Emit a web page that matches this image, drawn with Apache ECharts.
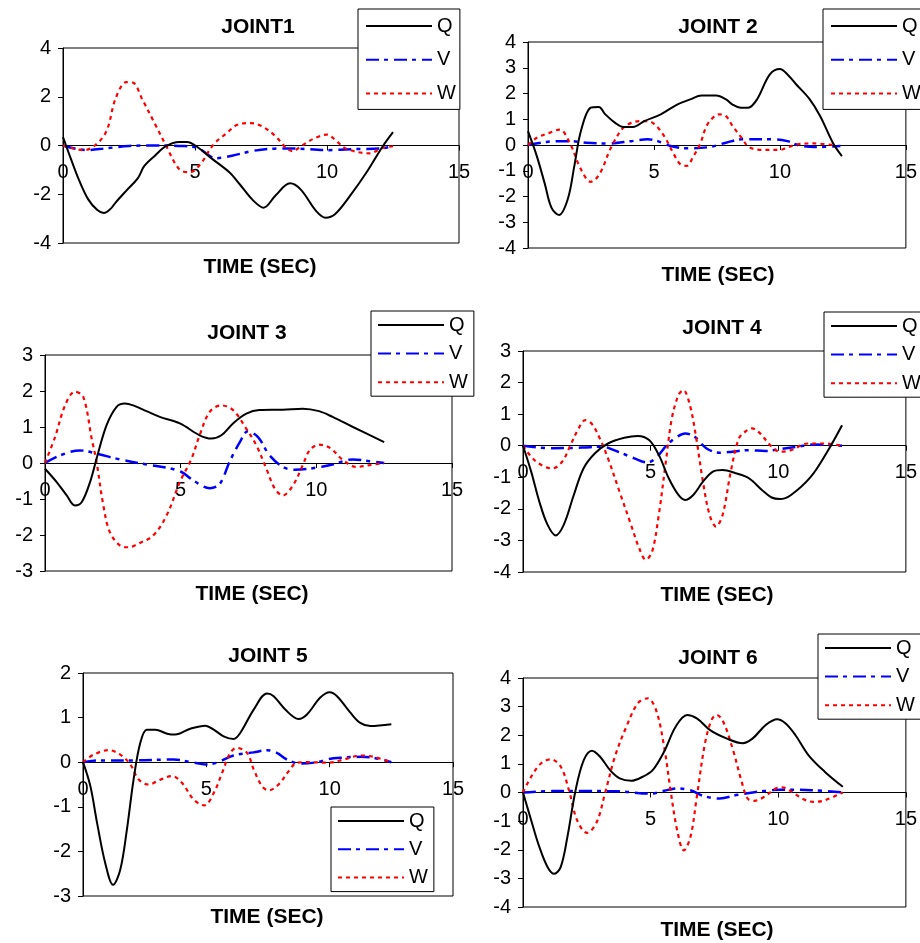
<!DOCTYPE html>
<html>
<head>
<meta charset="utf-8">
<script src="https://cdn.jsdelivr.net/npm/echarts@6/dist/echarts.min.js"></script>
<style>
html,body{margin:0;padding:0;background:#fff;}
#chart{width:920px;height:943px;}
</style>
</head>
<body>
<div id="chart"></div>
<script>
// ---- data: [time (sec), value] ----
var seriesNames = ['Q', 'V', 'W'];
var panelTitles = ['JOINT1', 'JOINT 2', 'JOINT 3', 'JOINT 4', 'JOINT 5', 'JOINT 6'];
var xTitle = 'TIME (SEC)';
var xTicks = [0, 5, 10, 15];
var yRanges = [[-4, 4, 2], [-4, 4, 1], [-3, 3, 1], [-4, 3, 1], [-3, 2, 1], [-4, 4, 1]];

var j1Q = [[0,0.35],[0.3,-0.55],[0.6,-1.4],[0.95,-2.2],[1.3,-2.65],[1.55,-2.77],[1.8,-2.6],[2.0,-2.33],[2.4,-1.85],[2.83,-1.35],[3.08,-0.84],[3.5,-0.4],[3.9,-0.03],[4.4,0.14],[4.7,0.14],[5.05,-0.03],[5.65,-0.55],[6.3,-1.1],[6.7,-1.6],[7.2,-2.25],[7.6,-2.55],[8.05,-2.05],[8.6,-1.55],[9.0,-1.8],[9.6,-2.7],[9.95,-2.96],[10.3,-2.82],[10.85,-2.1],[11.5,-1.1],[12.1,-0.05],[12.5,0.55]];
var j1V = [[0,0],[0.9,-0.19],[1.6,-0.12],[2.5,-0.02],[3.5,0],[4.5,-0.02],[5.1,-0.1],[5.8,-0.52],[6.4,-0.42],[7.2,-0.22],[8.0,-0.13],[8.7,-0.12],[10.0,-0.19],[11.0,-0.15],[12.0,-0.12],[12.5,-0.03]];
var j1W = [[0,0],[0.8,-0.19],[1.25,0.04],[1.65,0.6],[2.0,1.95],[2.4,2.6],[2.65,2.58],[3.0,1.9],[3.5,0.85],[3.9,0],[4.4,-0.97],[4.8,-1.1],[5.2,-0.77],[5.7,0.04],[6.2,0.51],[6.6,0.85],[7.1,0.92],[7.55,0.78],[8.05,0.38],[8.45,-0.1],[8.7,-0.23],[9.05,0.0],[9.55,0.31],[10.0,0.45],[10.3,0.24],[10.7,-0.12],[11.6,-0.32],[12.1,-0.1],[12.5,-0.03]];

var j2Q = [[0,0.54],[0.35,-0.43],[0.67,-1.52],[0.93,-2.43],[1.23,-2.72],[1.58,-2.1],[1.84,-0.81],[2.1,0.54],[2.49,1.45],[2.81,1.48],[3.07,1.19],[3.46,0.86],[3.78,0.7],[4.17,0.7],[4.62,0.93],[5.27,1.19],[5.92,1.57],[6.44,1.77],[6.89,1.92],[7.47,1.92],[7.86,1.77],[8.12,1.57],[8.45,1.45],[8.74,1.45],[9.09,1.77],[9.6,2.74],[10.0,2.95],[10.3,2.74],[10.65,2.35],[11.17,1.79],[11.6,1.12],[12.1,0.09],[12.46,-0.43]];
var j2V = [[0,0],[0.74,0.12],[1.26,0.15],[1.7,0.15],[2.3,0.09],[3.2,0.06],[4.1,0.15],[4.75,0.22],[5.14,0.15],[5.66,-0.04],[6.3,-0.13],[7.2,-0.08],[7.86,0.09],[8.5,0.22],[9.8,0.22],[10.3,0.15],[10.7,0],[11.36,-0.08],[12.4,-0.04]];
var j2W = [[0,0],[0.35,0.28],[0.87,0.48],[1.26,0.6],[1.65,0.1],[2.1,-0.94],[2.49,-1.43],[2.68,-1.33],[2.94,-0.94],[3.26,-0.17],[3.72,0.6],[4.1,0.86],[4.56,0.93],[4.95,0.86],[5.4,0.35],[5.79,-0.36],[6.05,-0.75],[6.3,-0.81],[6.57,-0.43],[6.83,0.03],[7.09,0.74],[7.4,1.12],[7.6,1.19],[7.86,1.12],[8.12,0.74],[8.5,0.25],[8.77,-0.08],[9.29,-0.19],[10.0,-0.19],[10.3,-0.1],[10.7,0.03],[11.36,0.06],[12.1,0]];

var j3Q = [[0,-0.16],[0.43,-0.53],[0.8,-0.9],[1.1,-1.18],[1.35,-1.09],[1.66,-0.53],[1.9,0.12],[2.27,1.05],[2.64,1.56],[2.94,1.65],[3.25,1.6],[3.74,1.44],[4.23,1.28],[4.97,1.1],[5.7,0.77],[6.13,0.68],[6.5,0.77],[6.93,1.1],[7.42,1.37],[7.9,1.47],[8.77,1.48],[9.5,1.51],[10.1,1.44],[10.6,1.28],[11.35,1.0],[12.5,0.58]];
var j3V = [[0,0],[0.55,0.21],[1.29,0.35],[1.9,0.26],[2.76,0.1],[3.74,-0.04],[4.48,-0.13],[5.03,-0.25],[5.46,-0.48],[6.07,-0.7],[6.44,-0.58],[6.8,0.03],[7.18,0.58],[7.48,0.88],[7.85,0.72],[8.28,0.21],[8.77,-0.11],[9.2,-0.19],[10.0,-0.13],[10.6,-0.04],[11.35,0.1],[11.96,0.05],[12.5,0]];
var j3W = [[0,0],[0.37,0.72],[0.74,1.6],[1.1,1.98],[1.41,1.84],[1.72,0.68],[1.9,0.03],[2.15,-1.18],[2.39,-1.92],[2.76,-2.29],[3.07,-2.34],[3.5,-2.22],[3.99,-2.01],[4.48,-1.46],[4.97,-0.53],[5.4,0.12],[5.7,0.77],[6.07,1.42],[6.5,1.6],[6.93,1.47],[7.42,0.95],[7.79,0.49],[8.16,-0.16],[8.47,-0.71],[8.77,-0.9],[9.14,-0.62],[9.5,-0.06],[9.75,0.35],[10.1,0.51],[10.5,0.42],[11.0,0.07],[11.47,-0.11],[11.96,-0.06],[12.5,0]];

var j4Q = [[0,0],[0.32,-0.82],[0.64,-1.77],[0.96,-2.5],[1.28,-2.84],[1.6,-2.5],[1.99,-1.56],[2.37,-0.72],[2.82,-0.24],[3.33,0.07],[3.97,0.25],[4.49,0.31],[4.94,0.18],[5.32,-0.29],[5.71,-1.03],[6.09,-1.56],[6.35,-1.72],[6.67,-1.56],[7.05,-1.14],[7.44,-0.82],[7.82,-0.77],[8.33,-0.87],[8.85,-1.03],[9.36,-1.4],[9.74,-1.64],[10.06,-1.69],[10.5,-1.56],[11.28,-0.98],[11.92,-0.19],[12.5,0.65]];
var j4V = [[0,0],[1.15,-0.08],[2.31,-0.06],[3.08,-0.03],[3.72,-0.19],[4.36,-0.4],[4.87,-0.53],[5.19,-0.4],[5.64,0.02],[6.03,0.28],[6.35,0.39],[6.73,0.28],[7.18,-0.08],[7.69,-0.22],[8.2,-0.19],[8.85,-0.14],[9.49,-0.17],[10.13,-0.1],[10.77,-0.03],[11.41,0.04],[12.5,0]];
var j4W = [[0,0],[0.51,-0.5],[1.15,-0.72],[1.54,-0.5],[1.86,0.02],[2.18,0.55],[2.44,0.81],[2.69,0.7],[3.01,0.23],[3.33,-0.4],[3.78,-1.45],[4.23,-2.5],[4.55,-3.24],[4.81,-3.61],[5.06,-3.35],[5.32,-2.19],[5.58,-0.61],[5.83,0.86],[6.09,1.6],[6.28,1.76],[6.54,1.28],[6.79,0.23],[7.05,-1.14],[7.31,-2.19],[7.56,-2.56],[7.82,-2.19],[8.14,-0.82],[8.46,0.23],[8.78,0.49],[8.97,0.55],[9.29,0.39],[9.68,0.02],[10.06,-0.19],[10.5,-0.14],[11.15,0.07],[11.79,0.07],[12.5,0]];

var j5Q = [[0,0],[0.3,-0.54],[0.57,-1.36],[0.9,-2.26],[1.22,-2.75],[1.51,-2.41],[1.78,-1.51],[2.05,-0.39],[2.32,0.43],[2.59,0.73],[2.93,0.73],[3.41,0.64],[3.74,0.62],[4.35,0.75],[4.96,0.82],[5.3,0.73],[5.7,0.58],[6.1,0.52],[6.38,0.66],[6.92,1.18],[7.46,1.54],[7.73,1.48],[8.2,1.18],[8.74,0.97],[9.08,1.07],[9.62,1.45],[10.0,1.57],[10.3,1.48],[10.84,1.11],[11.24,0.88],[11.65,0.81],[12.5,0.85]];
var j5V = [[0,0],[0.7,0.04],[2.05,0.04],[3.68,0.06],[4.49,-0.01],[4.96,-0.05],[5.43,-0.01],[6.1,0.15],[6.92,0.22],[7.46,0.27],[7.86,0.21],[8.27,0.06],[8.81,-0.03],[9.49,0],[9.96,0.07],[10.43,0.1],[11.24,0.12],[11.78,0.1],[12.5,0]];
var j5W = [[0,0],[0.43,0.17],[1.04,0.27],[1.51,0.17],[1.92,-0.05],[2.26,-0.39],[2.66,-0.5],[3.14,-0.39],[3.61,-0.31],[4.01,-0.46],[4.49,-0.84],[4.92,-0.97],[5.3,-0.69],[5.64,-0.24],[5.97,0.21],[6.24,0.32],[6.65,0.21],[6.92,-0.16],[7.26,-0.54],[7.53,-0.63],[7.93,-0.5],[8.34,-0.2],[8.68,-0.01],[9.08,0],[9.96,-0.01],[10.57,0.06],[11.24,0.15],[11.78,0.12],[12.5,0]];

var j6Q = [[0,0],[0.32,-0.97],[0.64,-1.9],[0.96,-2.6],[1.22,-2.84],[1.48,-2.6],[1.74,-1.55],[2.06,0.08],[2.38,1.13],[2.7,1.46],[3.02,1.25],[3.41,0.78],[3.79,0.49],[4.24,0.41],[4.69,0.55],[5.08,0.78],[5.53,1.43],[5.98,2.3],[6.43,2.71],[6.81,2.59],[7.33,2.18],[7.97,1.89],[8.61,1.72],[9.0,1.89],[9.51,2.36],[9.96,2.56],[10.28,2.42],[10.67,2.01],[11.18,1.31],[11.83,0.72],[12.53,0.2]];
var j6V = [[0,0],[1.16,0.05],[2.44,0.05],[3.73,0.04],[5.01,-0.04],[5.53,0.06],[6.04,0.14],[6.56,0.08],[7.07,-0.12],[7.71,-0.21],[8.35,-0.09],[9.0,0],[9.51,0.06],[10.1,0.1],[11.31,0.08],[12.53,0]];
var j6W = [[0,0],[0.32,0.55],[0.71,1.02],[1.09,1.16],[1.48,0.9],[1.8,0.08],[2.12,-0.97],[2.51,-1.41],[2.89,-1.03],[3.21,-0.04],[3.6,1.25],[4.05,2.3],[4.5,3.12],[4.88,3.29],[5.21,2.89],[5.53,1.6],[5.78,0.08],[6.04,-1.32],[6.3,-2.02],[6.56,-1.55],[6.81,-0.15],[7.13,1.72],[7.39,2.54],[7.58,2.71],[7.84,2.48],[8.23,1.48],[8.55,0.43],[8.8,-0.21],[9.06,-0.29],[9.45,-0.15],[9.9,0.14],[10.15,0.18],[10.54,0.02],[10.93,-0.21],[11.38,-0.33],[11.83,-0.27],[12.53,0]];

var panelData = [[j1Q, j1V, j1W], [j2Q, j2V, j2W], [j3Q, j3V, j3W], [j4Q, j4V, j4W], [j5Q, j5V, j5W], [j6Q, j6V, j6W]];

// ---- layout (pixels) ----
var FONT = '"Liberation Sans", Arial, sans-serif';
var grids = [
  {left: 63, top: 48, width: 396, height: 195},
  {left: 528, top: 42, width: 384, height: 206},
  {left: 45, top: 355, width: 407, height: 216},
  {left: 523, top: 351, width: 390, height: 221},
  {left: 83, top: 673, width: 370, height: 223},
  {left: 523, top: 678, width: 390, height: 229}
];
var titlePos = [[258, 27], [718, 27], [247, 333], [722, 328], [268, 656], [718, 658]];
var xTitlePos = [[260, 267], [718, 275], [252, 594], [717, 595], [267, 917], [717, 930]];
var legendPos = [
  {left: 358, top: 9, padding: [7, 4, 6, 7], itemGap: 13.7},
  {left: 823, top: 9, padding: [7, 4, 6, 7], itemGap: 13.7},
  {left: 371, top: 311, padding: [4, 6, 4, 6], itemGap: 8.6},
  {left: 824, top: 312, padding: [4, 6, 4, 6], itemGap: 8.6},
  {left: 331, top: 807, padding: [4, 6, 4, 6], itemGap: 8.3},
  {left: 818, top: 634, padding: [4, 6, 4, 6], itemGap: 8.6}
];
var styles = {
  Q: {color: '#000000', width: 2, type: 'solid'},
  V: {color: '#0000FF', width: 2.5, type: [13, 5, 4, 6]},
  W: {color: '#FF0000', width: 2.2, type: [4, 4]}
};

var option = {
  backgroundColor: '#ffffff',
  animation: false,
  title: [],
  legend: [],
  grid: [],
  xAxis: [],
  yAxis: [],
  series: []
};

for (var i = 0; i < 6; i++) {
  option.title.push({
    text: panelTitles[i], left: titlePos[i][0], top: titlePos[i][1], padding: 0,
    textAlign: 'center', textVerticalAlign: 'middle',
    textStyle: {fontFamily: FONT, fontSize: 21, fontWeight: 'bold', color: '#000'}
  });
  option.title.push({
    text: xTitle, left: xTitlePos[i][0], top: xTitlePos[i][1], padding: 0,
    textAlign: 'center', textVerticalAlign: 'middle',
    textStyle: {fontFamily: FONT, fontSize: 21, fontWeight: 'bold', color: '#000'}
  });
  var g = grids[i];
  var yr = yRanges[i];
  // the time axis crosses the value axis at 0: lift it from the grid bottom
  var zeroLift = g.height * (0 - yr[0]) / (yr[1] - yr[0]);
  option.grid.push({
    left: g.left, top: g.top, width: g.width, height: g.height,
    show: true, borderColor: '#000', borderWidth: 1, backgroundColor: 'transparent',
    containLabel: false
  });
  option.xAxis.push({
    type: 'value', gridIndex: i, min: xTicks[0], max: xTicks[xTicks.length - 1],
    interval: xTicks[1] - xTicks[0], position: 'bottom', offset: -zeroLift,
    axisLine: {show: true, onZero: false, lineStyle: {color: '#000', width: 1}},
    axisTick: {show: true, length: 5, lineStyle: {color: '#000'}},
    splitLine: {show: false},
    axisLabel: {fontFamily: FONT, fontSize: 20, color: '#000', margin: 17}
  });
  option.yAxis.push({
    type: 'value', gridIndex: i, min: yr[0], max: yr[1], interval: yr[2],
    axisLine: {show: true, onZero: false, lineStyle: {color: '#000', width: 1}},
    axisTick: {show: true, length: 5, lineStyle: {color: '#000'}},
    splitLine: {show: false},
    axisLabel: {fontFamily: FONT, fontSize: 20, color: '#000', margin: 12}
  });
  var lp = legendPos[i];
  option.legend.push({
    data: seriesNames, orient: 'vertical', left: lp.left, top: lp.top,
    padding: lp.padding, itemGap: lp.itemGap, itemWidth: 66, itemHeight: 20,
    backgroundColor: '#ffffff', borderColor: '#000', borderWidth: 1, borderRadius: 0,
    itemStyle: {opacity: 0},
    textStyle: {fontFamily: FONT, fontSize: 20, color: '#000'},
    z: 10
  });
  for (var s = 0; s < 3; s++) {
    var st = styles[seriesNames[s]];
    option.series.push({
      name: seriesNames[s], type: 'line', xAxisIndex: i, yAxisIndex: i,
      data: panelData[i][s], smooth: 0.35, symbol: 'none', showSymbol: false,
      lineStyle: {color: st.color, width: st.width, type: st.type},
      itemStyle: {color: st.color},
      z: s === 0 ? 3 : 2
    });
  }
}

var chart = echarts.init(document.getElementById('chart'), null, {renderer: 'canvas'});
chart.setOption(option);
</script>
</body>
</html>
